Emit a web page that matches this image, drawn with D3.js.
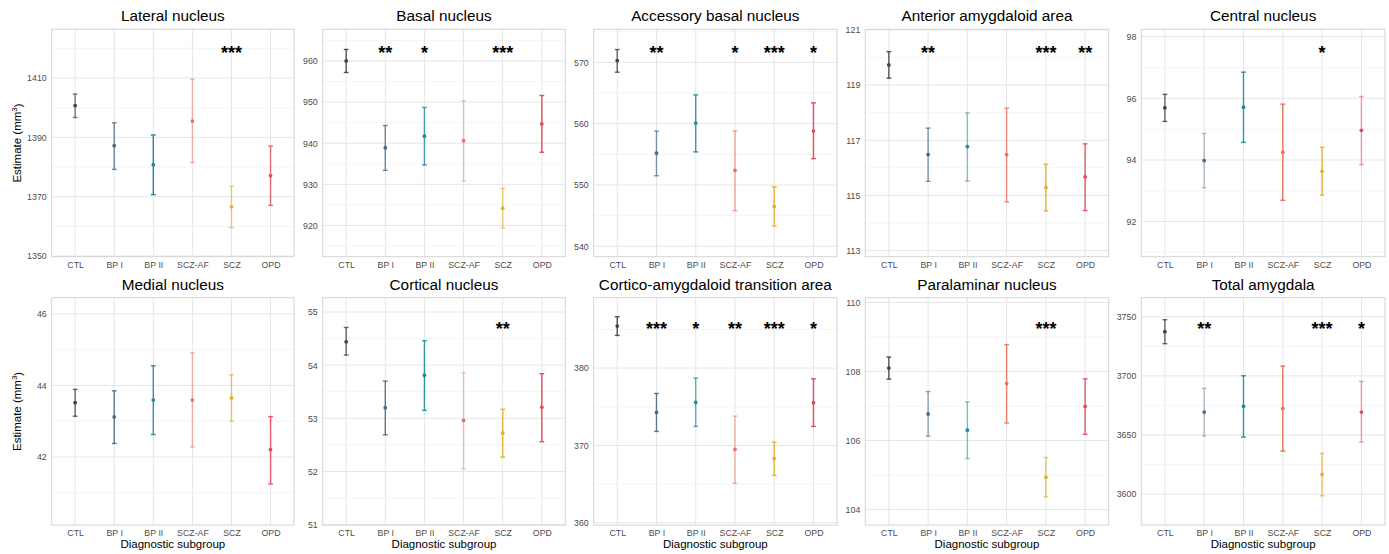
<!DOCTYPE html>
<html>
<head>
<meta charset="utf-8">
<script src="https://cdn.jsdelivr.net/npm/d3@7"></script>
<style>
  body { margin: 0; background: #fff; }
  svg { font-family: "Liberation Sans", Arial, sans-serif; }
</style>
</head>
<body>
<script>
// Estimated amygdala subregion volumes per diagnostic subgroup
const groups = ["CTL", "BP I", "BP II", "SCZ-AF", "SCZ", "OPD"];

const regions = [
  "Lateral nucleus",
  "Basal nucleus",
  "Accessory basal nucleus",
  "Anterior amygdaloid area",
  "Central nucleus",
  "Medial nucleus",
  "Cortical nucleus",
  "Cortico-amygdaloid transition area",
  "Paralaminar nucleus",
  "Total amygdala",
];

const estimates = [
  [1400.7, 1387.2, 1380.8, 1395.5, 1366.6, 1377.1],
  [960.0, 938.9, 941.7, 940.6, 924.2, 944.7],
  [570.3, 555.2, 560.1, 552.4, 546.5, 558.8],
  [119.73, 116.48, 116.77, 116.48, 115.29, 115.67],
  [95.69, 93.98, 95.71, 94.25, 93.63, 94.96],
  [43.52, 43.12, 43.59, 43.59, 43.65, 42.21],
  [54.44, 53.2, 53.81, 52.96, 52.72, 53.21],
  [385.43, 374.27, 375.56, 369.48, 368.32, 375.52],
  [108.1, 106.77, 106.3, 107.65, 104.94, 106.99],
  [3737.3, 3669.4, 3674.2, 3672.5, 3616.6, 3669.4],
];

const lower = [
  [1396.7, 1379.2, 1370.7, 1381.5, 1359.6, 1367.1],
  [957.2, 933.4, 934.7, 930.8, 919.4, 937.8],
  [568.4, 551.5, 555.4, 545.8, 543.3, 554.3],
  [119.25, 115.51, 115.52, 114.77, 114.44, 114.45],
  [95.25, 93.1, 94.57, 92.69, 92.86, 93.85],
  [43.14, 42.38, 42.63, 42.28, 43.0, 41.25],
  [54.19, 52.69, 53.15, 52.05, 52.27, 52.56],
  [384.22, 371.81, 372.46, 365.09, 366.12, 372.46],
  [107.78, 106.13, 105.48, 106.51, 104.37, 106.18],
  [3727.2, 3649.1, 3648.2, 3636.4, 3598.6, 3644.0],
];

const upper = [
  [1404.6, 1394.9, 1390.8, 1409.6, 1373.6, 1387.1],
  [962.8, 944.3, 948.7, 950.3, 929.0, 951.6],
  [572.1, 558.8, 564.7, 558.8, 549.7, 563.4],
  [120.21, 117.44, 117.99, 118.16, 116.13, 116.87],
  [96.13, 94.86, 96.85, 95.81, 94.41, 96.06],
  [43.89, 43.85, 44.55, 44.91, 44.3, 43.13],
  [54.71, 53.7, 54.46, 53.86, 53.17, 53.84],
  [386.64, 376.72, 378.71, 373.79, 370.43, 378.62],
  [108.42, 107.42, 107.12, 108.78, 105.51, 107.79],
  [3747.5, 3689.4, 3700.1, 3708.3, 3634.4, 3695.3],
];

// significance markers versus CTL
const stars = [
  ["", "", "", "", "***", ""],
  ["", "**", "*", "", "***", ""],
  ["", "**", "", "*", "***", "*"],
  ["", "**", "", "", "***", "**"],
  ["", "", "", "", "*", ""],
  ["", "", "", "", "", ""],
  ["", "", "", "", "**", ""],
  ["", "***", "*", "**", "***", "*"],
  ["", "", "", "", "***", ""],
  ["", "**", "", "", "***", "*"],
];
const starLevel = [1419.8, 963.0, 572.2, 120.32, 97.61, 46, 54.77, 385.65, 109.36, 3743.2];

// error bar transparency per panel
const barAlpha = [
  [0.7, 0.8, 1, 0.5, 0.6, 0.8],
  [0.9, 0.8, 0.8, 0.4, 0.6, 1],
  [0.8, 0.7, 0.9, 0.6, 0.9, 1],
  [0.9, 0.7, 0.5, 0.8, 0.9, 0.9],
  [0.8, 0.4, 0.9, 1, 0.9, 0.5],
  [0.8, 0.9, 0.9, 0.5, 0.7, 0.9],
  [0.8, 0.9, 0.9, 0.4, 0.9, 1],
  [0.9, 0.9, 0.7, 0.5, 0.9, 1],
  [0.9, 0.6, 0.5, 0.9, 0.7, 0.9],
  [0.8, 0.4, 0.9, 1, 0.7, 0.5],
];

const yDomains = [
  [1349.8, 1426.4],
  [912.4, 967.7],
  [538.3, 575.4],
  [112.78, 121.02],
  [90.86, 98.24],
  [40.1, 46.45],
  [50.99, 55.27],
  [359.7, 389.1],
  [103.55, 110.14],
  [3573.8, 3766.1],
];

const yTicks = [
  [1350, 1370, 1390, 1410],
  [920, 930, 940, 950, 960],
  [540, 550, 560, 570],
  [113, 115, 117, 119, 121],
  [92, 94, 96, 98],
  [42, 44, 46],
  [51, 52, 53, 54, 55],
  [360, 370, 380],
  [104, 106, 108, 110],
  [3600, 3650, 3700, 3750],
];

const colors = ["#4a3e3e", "#4b6a84", "#1c8b9b", "#e8725e", "#e2ae2c", "#e64a5e"];

const fontFamily = '"Liberation Sans", Arial, sans-serif';

const colLeft = [51.7, 322.7, 593.7, 865.3, 1141.3],
  colRight = [294, 565.3, 837, 1108.7, 1385],
  rowTop = [29.3, 297.7],
  panelH = 227.4;

const svg = d3
  .select("body")
  .append("svg")
  .attr("width", 1389)
  .attr("height", 554);

regions.forEach((name, p) => {
  const col = p % 5,
    row = Math.floor(p / 5);
  const left = colLeft[col],
    top = rowTop[row],
    w = colRight[col] - colLeft[col];

  const x = d3.scalePoint().domain(groups).range([0, w]).padding(0.6);
  const y = d3.scaleLinear().domain(yDomains[p]).range([panelH, 0]);

  const g = svg
    .append("g")
    .attr("transform", "translate(" + left + "," + top + ")");

  const ticks = yTicks[p];
  const step = ticks[1] - ticks[0];
  const minor = ticks
    .map((t) => t - step / 2)
    .concat([ticks[ticks.length - 1] + step / 2])
    .filter((t) => t > yDomains[p][0] && t < yDomains[p][1]);

  // grid
  g.selectAll(".minor")
    .data(minor)
    .enter()
    .append("line")
    .attr("x1", 0)
    .attr("x2", w)
    .attr("y1", (d) => y(d))
    .attr("y2", (d) => y(d))
    .attr("stroke", "#f1f1f1")
    .attr("stroke-width", 0.7);

  g.selectAll(".major")
    .data(ticks)
    .enter()
    .append("line")
    .attr("x1", 0)
    .attr("x2", w)
    .attr("y1", (d) => y(d))
    .attr("y2", (d) => y(d))
    .attr("stroke", "#e6e6e6")
    .attr("stroke-width", 1);

  g.selectAll(".vgrid")
    .data(groups)
    .enter()
    .append("line")
    .attr("x1", (d) => x(d))
    .attr("x2", (d) => x(d))
    .attr("y1", 0)
    .attr("y2", panelH)
    .attr("stroke", "#e6e6e6")
    .attr("stroke-width", 1);

  g.append("rect")
    .attr("width", w)
    .attr("height", panelH)
    .attr("fill", "none")
    .attr("stroke", "#d4d4d4")
    .attr("stroke-width", 1);

  // axes
  const yAxis = d3
    .axisLeft(y)
    .tickValues(ticks)
    .tickFormat((d) => String(d))
    .tickSize(0)
    .tickPadding(5);
  const xAxis = d3.axisBottom(x).tickSize(0).tickPadding(5);

  g.append("g")
    .call(yAxis)
    .attr("font-family", fontFamily)
    .attr("font-size", 8.8)
    .call((a) => a.select(".domain").remove())
    .selectAll("text")
    .attr("fill", "#4d4d4d");

  g.append("g")
    .attr("transform", "translate(0," + panelH + ")")
    .call(xAxis)
    .attr("font-family", fontFamily)
    .attr("font-size", 8.8)
    .call((a) => a.select(".domain").remove())
    .selectAll("text")
    .attr("fill", "#4d4d4d");

  g.append("text")
    .attr("x", w / 2)
    .attr("y", -8)
    .attr("text-anchor", "middle")
    .style("font-size", "15.3px")
    .attr("fill", "#000")
    .text(name);

  // error bars
  const rows = groups.map((grp, i) => ({
    grp: grp,
    est: estimates[p][i],
    lo: lower[p][i],
    hi: upper[p][i],
    alpha: barAlpha[p][i],
    color: colors[i],
    star: stars[p][i],
  }));

  const bars = g
    .selectAll(".bar")
    .data(rows)
    .enter()
    .append("g")
    .attr("stroke", (d) => d.color)
    .attr("stroke-opacity", (d) => d.alpha)
    .attr("stroke-width", 1.4);

  bars
    .append("line")
    .attr("x1", (d) => x(d.grp))
    .attr("x2", (d) => x(d.grp))
    .attr("y1", (d) => y(d.lo))
    .attr("y2", (d) => y(d.hi));

  bars
    .append("line")
    .attr("x1", (d) => x(d.grp) - 2.4)
    .attr("x2", (d) => x(d.grp) + 2.4)
    .attr("y1", (d) => y(d.lo))
    .attr("y2", (d) => y(d.lo));

  bars
    .append("line")
    .attr("x1", (d) => x(d.grp) - 2.4)
    .attr("x2", (d) => x(d.grp) + 2.4)
    .attr("y1", (d) => y(d.hi))
    .attr("y2", (d) => y(d.hi));

  g.selectAll(".pt")
    .data(rows)
    .enter()
    .append("circle")
    .attr("cx", (d) => x(d.grp))
    .attr("cy", (d) => y(d.est))
    .attr("r", 1.9)
    .attr("fill", (d) => d.color);

  g.selectAll(".star")
    .data(rows.filter((d) => d.star))
    .enter()
    .append("text")
    .attr("x", (d) => x(d.grp))
    .attr("y", y(starLevel[p]) + 10.5)
    .attr("text-anchor", "middle")
    .style("font-size", "18px")
    .style("font-weight", "bold")
    .attr("fill", "#000")
    .text((d) => d.star);

  // axis titles
  if (col === 0) {
    const yt = g
      .append("text")
      .attr("transform", "translate(" + (16.7 - left) + "," + panelH / 2 + ") rotate(-90)")
      .attr("text-anchor", "middle")
      .attr("dy", "0.35em")
      .style("font-size", "11.5px")
      .attr("fill", "#000");
    yt.append("tspan").text("Estimate (mm");
    yt.append("tspan").attr("dy", "-0.45em").style("font-size", "8px").text("3");
    yt.append("tspan").attr("dy", "0.45em").text(")");
  }
  if (row === 1) {
    g.append("text")
      .attr("x", w / 2)
      .attr("y", panelH + 23)
      .attr("text-anchor", "middle")
      .style("font-size", "11.5px")
      .attr("fill", "#000")
      .text("Diagnostic subgroup");
  }
});
</script>
</body>
</html>
